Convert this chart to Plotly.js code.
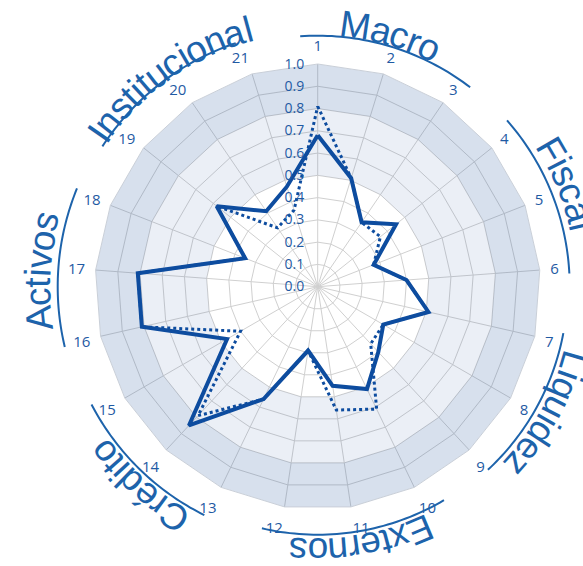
<!DOCTYPE html>
<html>
<head>
<meta charset="utf-8">
<script src="https://cdn.plot.ly/plotly-3.0.1.min.js"></script>
<style>html,body{margin:0;padding:0;background:#fff}</style>
</head>
<body>
<div id="chart" style="width:583px;height:566px"></div>
<script>
// indicators 1..21, grouped by blocks of three
var categories = ['1','2','3','4','5','6','7','8','9','10','11','12','13','14','15','16','17','18','19','20','21'];
var current = [0.68, 0.51, 0.35, 0.45, 0.27, 0.40, 0.51, 0.34, 0.40, 0.51, 0.45, 0.29, 0.56, 0.85, 0.47, 0.81, 0.81, 0.35, 0.58, 0.41, 0.47];
var previous = [0.81, 0.51, 0.35, 0.36, 0.27, 0.40, 0.51, 0.34, 0.35, 0.61, 0.56, 0.29, 0.56, 0.79, 0.40, 0.81, 0.81, 0.35, 0.58, 0.32, 0.36];
var groups = ['Macro', 'Fiscal', 'Liquidez', 'Externos', 'Crédito', 'Activos', 'Institucional'];
var bandEdges = [0.5, 0.8, 1.0];

var W = 583, H = 566;
var CX = 317.7, CY = 286.7, RAD = 222.7;
var dom = {
    x: [(CX - RAD) / W, (CX + RAD) / W],
    y: [(H - CY - RAD) / H, (H - CY + RAD) / H]
};

var lineBlue = '#0d4c9f';
var textBlue = '#1f5aa3';
var labelBlue = '#1d63ab';

// closed ring between two radii, drawn as a polygon with a hole
function ring(rIn, rOut, color) {
    var th = categories.concat([categories[0]]);
    var back = [categories[0]].concat(categories.slice().reverse());
    var r = th.map(function () { return rOut; }).concat(back.map(function () { return rIn; }));
    return {
        type: 'scatterpolar', mode: 'lines', theta: th.concat(back), r: r,
        fill: 'toself', fillcolor: color, line: {width: 0}, hoverinfo: 'skip'
    };
}

function closed(arr) { return arr.concat([arr[0]]); }

var data = [
    ring(bandEdges[1], bandEdges[2], 'rgba(40,90,160,0.19)'),
    ring(bandEdges[0], bandEdges[1], 'rgba(40,90,160,0.095)'),
    {
        type: 'scatterpolar', mode: 'lines', name: 'anterior',
        theta: closed(categories), r: closed(previous),
        line: {color: lineBlue, width: 3, dash: 'dot'}
    },
    {
        type: 'scatterpolar', mode: 'lines', name: 'actual',
        theta: closed(categories), r: closed(current),
        line: {color: lineBlue, width: 4}
    }
];

// arcs and curved labels for each block (angles clockwise from top, radii in px)
var step = 360 / categories.length;
var arcFrom = [-4, 48.7, 100.7, 149.4, 206.4, 256.6, 303.1];
var arcTo = [37.4, 87, 137.1, 193, 242.5, 292.2, 341.4];
var arcRad = [251, 252, 250, 248, 255, 260, 257];
var txtRad = [264, 271, 267, 264, 271, 280, 267];
var fs = 37;
var cw = {M:833,a:556,c:500,r:333,o:556,F:611,i:222,s:500,l:222,L:556,q:556,u:556,d:556,e:556,z:500,
          E:667,x:500,t:278,n:556,C:722,'é':556,A:667,v:500,I:278};
var annotations = [], shapes = [];

function toPaper(ang, rPx) {
    var rad = ang * Math.PI / 180;
    return [(CX + rPx * Math.sin(rad)) / W, 1 - (CY - rPx * Math.cos(rad)) / H];
}

groups.forEach(function (g, k) {
    var mid = (3 * k + 1) * step;
    var path = '';
    var n = 40;
    for (var i = 0; i <= n; i++) {
        var a = arcFrom[k] + (arcTo[k] - arcFrom[k]) * i / n;
        var p = toPaper(a, arcRad[k]);
        path += (i ? ' L ' : 'M ') + p[0].toFixed(5) + ',' + p[1].toFixed(5);
    }
    shapes.push({type: 'path', xref: 'paper', yref: 'paper', path: path,
                 line: {color: labelBlue, width: 2}});

    var chars = g.split('');
    var tr = txtRad[k];
    var widths = chars.map(function (ch) { return (cw[ch] || 556) / 1000 * fs; });
    var total = widths.reduce(function (s, v) { return s + v; }, 0);
    var pos = -total / 2;
    chars.forEach(function (ch, j) {
        var ang = mid - 1 + (pos + widths[j] / 2) / tr * 180 / Math.PI;
        pos += widths[j];
        var p = toPaper(ang, tr);
        annotations.push({
            xref: 'paper', yref: 'paper', x: p[0], y: p[1],
            xanchor: 'center', yanchor: 'middle', showarrow: false,
            text: ch, textangle: ang > 180 ? ang - 360 : ang,
            font: {family: 'Liberation Sans, Arial, sans-serif', size: fs, color: labelBlue}
        });
    });
});

var layout = {
    width: W, height: H,
    margin: {l: 0, r: 0, t: 0, b: 0, pad: 0},
    paper_bgcolor: '#fff',
    showlegend: false,
    font: {family: 'Open Sans, sans-serif', color: textBlue},
    polar: {
        domain: dom,
        gridshape: 'linear',
        bgcolor: '#fff',
        angularaxis: {
            type: 'category', categoryarray: categories,
            rotation: 90, direction: 'clockwise',
            gridcolor: '#d0d0d0', showline: true, linecolor: '#c9cfd8', linewidth: 1,
            ticks: 'outside', ticklen: 7, tickcolor: 'rgba(0,0,0,0)',
            tickfont: {size: 15, color: textBlue}
        },
        radialaxis: {
            range: [0, 1], dtick: 0.1, tickformat: '.1f', angle: 90, tickangle: 90,
            side: 'counterclockwise',
            gridcolor: '#d0d0d0', showline: false,
            ticks: 'outside', ticklen: 8, tickcolor: 'rgba(0,0,0,0)',
            tickfont: {size: 14, color: textBlue}
        }
    },
    shapes: shapes,
    annotations: annotations
};

Plotly.newPlot('chart', data, layout, {displayModeBar: false, staticPlot: true});
</script>
</body>
</html>
